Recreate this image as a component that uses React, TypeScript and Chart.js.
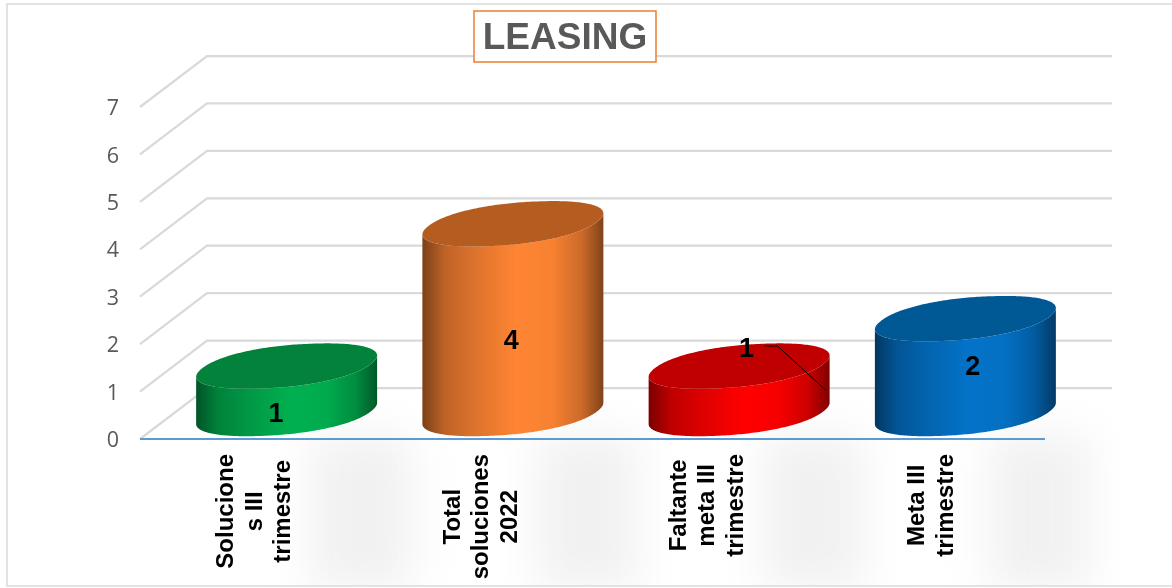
import React, { useEffect, useRef } from "react";
import { Chart, registerables } from "chart.js";

Chart.register(...registerables);

const categories = [
  ["Solucione", "s III", "trimestre"],
  ["Total", "soluciones", "2022"],
  ["Faltante", "meta III", "trimestre"],
  ["Meta III", "trimestre"],
];
const values = [1, 4, 1, 2];
const sideColors = ["#00B050", "#FF8533", "#FF0000", "#0373C9"];
const topColors = ["#03823C", "#B55D20", "#C00000", "#005894"];
const titleText = "LEASING";

const DEPTH_X = 67;
const DEPTH_Y = 51;
const FONT = '"Liberation Sans", Arial, sans-serif';

function shade(hex: string, f: number) {
  const n = parseInt(hex.slice(1), 16);
  const c = [(n >> 16) & 255, (n >> 8) & 255, n & 255].map((v) => Math.round(v * f));
  return `rgb(${c[0]},${c[1]},${c[2]})`;
}

const cylinderPlugin = {
  id: "cylinders",
  beforeDatasetsDraw(chart: any) {
    const { ctx, chartArea, scales } = chart;
    const y = scales.y;
    const meta = chart.getDatasetMeta(0);
    const zero = y.getPixelForValue(0);
    ctx.save();
    // soft shadows under the cylinders
    ctx.save();
    ctx.beginPath();
    ctx.rect(8, zero - DEPTH_Y, 1164, 585 - zero + DEPTH_Y);
    ctx.clip();
    ctx.filter = "blur(22px)";
    ctx.fillStyle = "#f1f1f1";
    meta.data.forEach((el: any) => {
      ctx.fillRect(el.x + 58, zero - 4, 100, 155);
    });
    ctx.restore();
    // 3-D grid
    ctx.strokeStyle = "#d9d9d9";
    ctx.lineWidth = 2.25;
    for (const t of y.ticks) {
      const py = y.getPixelForValue(t.value);
      ctx.beginPath();
      ctx.moveTo(chartArea.left, py);
      ctx.lineTo(chartArea.left + DEPTH_X, py - DEPTH_Y);
      ctx.lineTo(chartArea.right + DEPTH_X, py - DEPTH_Y);
      ctx.stroke();
    }
    ctx.restore();
    // value axis numbers
    ctx.save();
    ctx.fillStyle = "#595959";
    ctx.font = '21.5px "Open Sans", sans-serif';
    ctx.textAlign = "right";
    ctx.textBaseline = "middle";
    for (const t of y.ticks) {
      ctx.fillText(String(t.value), 119, y.getPixelForValue(t.value) + 2);
    }
    ctx.restore();
    // axis line sits on top of grid foot
    ctx.save();
    ctx.strokeStyle = "#5B9BD5";
    ctx.lineWidth = 2;
    ctx.beginPath();
    ctx.moveTo(chartArea.left, zero);
    ctx.lineTo(chartArea.right, zero);
    ctx.stroke();
    ctx.restore();
  },
  afterDatasetsDraw(chart: any) {
    const { ctx, scales } = chart;
    const x = scales.x;
    const meta = chart.getDatasetMeta(0);
    const ds = chart.data.datasets[0];
    const labelNudge = [
      [23, 23],
      [32, 92],
      [41, -42],
      [41, 23],
    ];
    ctx.save();
    meta.data.forEach((el: any, i: number) => {
      const R = el.width / 2;
      const Dy = 22.5;
      const Dx = 28;
      const A = Math.sqrt(R * R - Dx * Dx) * 0.985;
      const cx = el.x + DEPTH_X / 2;
      const top = el.y - DEPTH_Y / 2;
      const bot = el.base - DEPTH_Y / 2;
      const P = 0.92;
      const N = 240;
      const pow = (v: number) => Math.sign(v) * Math.pow(Math.abs(v), P);
      // outline of one end, as offsets from its centre
      const loop: number[][] = [];
      for (let k = 0; k < N; k++) {
        const t = (2 * Math.PI * k) / N;
        const c = pow(Math.cos(t));
        const s = pow(Math.sin(t));
        loop.push([A * c + Dx * s, -Dy * s - 2.5 * c]);
      }
      let iMin = 0;
      let iMax = 0;
      loop.forEach((p, k) => {
        if (p[0] < loop[iMin][0]) iMin = k;
        if (p[0] > loop[iMax][0]) iMax = k;
      });
      const front: number[][] = [];
      for (let k = iMin; ; k = (k + 1) % N) {
        front.push(loop[k]);
        if (k === iMax) break;
      }
      const g = ctx.createLinearGradient(cx - R, 0, cx + R, 0);
      const base = sideColors[i];
      g.addColorStop(0, shade(base, 0.48));
      g.addColorStop(0.12, shade(base, 0.74));
      g.addColorStop(0.28, shade(base, 0.86));
      g.addColorStop(0.52, shade(base, 1));
      g.addColorStop(0.72, shade(base, 0.97));
      g.addColorStop(0.88, shade(base, 0.8));
      g.addColorStop(1, shade(base, 0.5));
      ctx.fillStyle = g;
      ctx.beginPath();
      front.forEach((p, k) => {
        if (k === 0) ctx.moveTo(cx + p[0], bot + p[1]);
        else ctx.lineTo(cx + p[0], bot + p[1]);
      });
      for (let k = front.length - 1; k >= 0; k--) {
        ctx.lineTo(cx + front[k][0], top + front[k][1]);
      }
      ctx.closePath();
      ctx.fill();
      ctx.fillStyle = topColors[i];
      ctx.beginPath();
      loop.forEach((p, k) => {
        if (k === 0) ctx.moveTo(cx + p[0], top + p[1]);
        else ctx.lineTo(cx + p[0], top + p[1]);
      });
      ctx.closePath();
      ctx.fill();
    });
    // leader line of the third label
    const third = meta.data[2];
    ctx.strokeStyle = "#000";
    ctx.lineWidth = 1;
    ctx.beginPath();
    ctx.moveTo(third.x + 59, third.y - 45.5);
    ctx.lineTo(third.x + 72, third.y - 45.5);
    ctx.lineTo(third.x + 120, third.y - 1.5);
    ctx.stroke();
    // value labels
    ctx.fillStyle = "#000";
    ctx.font = `bold 27px ${FONT}`;
    ctx.textAlign = "center";
    ctx.textBaseline = "middle";
    meta.data.forEach((el: any, i: number) => {
      ctx.fillText(String(ds.data[i]), el.x + labelNudge[i][0], el.y + labelNudge[i][1]);
    });
    // rotated category labels, centred on their longest line
    ctx.font = `bold 24px ${FONT}`;
    const lineH = 28.5;
    const labelTop = 454;
    categories.forEach((lines, i) => {
      const longest = Math.max(...lines.map((s) => ctx.measureText(s).width));
      const px = x.getPixelForValue(i) + (lines.length === 3 ? 2 : 0);
      const cy = labelTop + longest / 2;
      lines.forEach((s, j) => {
        ctx.save();
        ctx.translate(px + (j - (lines.length - 1) / 2) * lineH, cy);
        ctx.rotate(-Math.PI / 2);
        ctx.fillText(s, 0, 0);
        ctx.restore();
      });
    });
    // title box
    ctx.font = `bold 37px ${FONT}`;
    const tc = 565;
    ctx.fillStyle = "#fff";
    ctx.fillRect(tc - 91, 11, 182, 51);
    ctx.strokeStyle = "#ED7D31";
    ctx.lineWidth = 1.5;
    ctx.strokeRect(tc - 91, 11, 182, 51);
    ctx.fillStyle = "#595959";
    ctx.fillText(titleText, tc, 39);
    ctx.restore();
    // frame
    ctx.save();
    ctx.strokeStyle = "#d9d9d9";
    ctx.lineWidth = 1.5;
    ctx.beginPath();
    ctx.moveTo(1172, 4);
    ctx.lineTo(7, 4);
    ctx.lineTo(7, 586);
    ctx.lineTo(1172, 586);
    ctx.stroke();
    ctx.restore();
  },
};

export default function App() {
  const ref = useRef<HTMLCanvasElement>(null);
  useEffect(() => {
    const chart = new Chart(ref.current as HTMLCanvasElement, {
      type: "bar",
      data: {
        labels: categories.map((c) => c.join(" ")),
        datasets: [
          {
            data: values,
            backgroundColor: "transparent",
            borderWidth: 0,
            barPercentage: 0.8,
            categoryPercentage: 1,
          },
        ],
      },
      plugins: [cylinderPlugin],
      options: {
        animation: false,
        responsive: false,
        layout: { padding: { top: 107, bottom: 149, right: 127, left: 0 } },
        plugins: { legend: { display: false }, title: { display: false }, tooltip: { enabled: false } },
        scales: {
          x: {
            afterFit: (s: any) => {
              s.height = 0;
            },
            grid: { display: false },
            border: { display: false },
            ticks: { display: false },
          },
          y: {
            min: 0,
            max: 7,
            afterFit: (s: any) => {
              s.width = 140;
            },
            grid: { display: false },
            border: { display: false },
            ticks: { stepSize: 1, display: false },
          },
        },
      },
    } as any);
    return () => chart.destroy();
  }, []);
  return (
    <div style={{ position: "absolute", left: 0, top: 0, width: 1172, height: 588, background: "#fff" }}>
      <canvas ref={ref} width={1172} height={588} style={{ display: "block" }} />
    </div>
  );
}
